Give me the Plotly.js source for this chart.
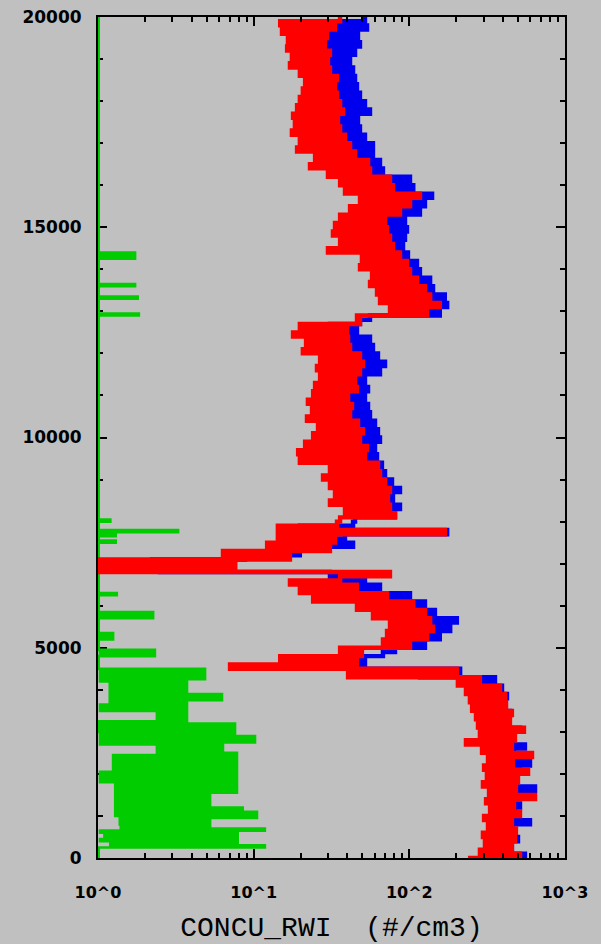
<!DOCTYPE html>
<html>
<head>
<meta charset="utf-8">
<script src="https://cdn.plot.ly/plotly-3.0.1.min.js"></script>
<style>html,body{margin:0;padding:0;background:#c0c0c0;}#chart{width:601px;height:944px;}</style>
</head>
<body>
<div id="chart"></div>
<script>
// Altitude grid (m) shared by the two main profiles
const altitude = [0,100,200,300,400,500,600,700,800,900,1000,1100,1200,1300,1400,1500,1600,1700,1800,1900,
2000,2100,2200,2300,2400,2500,2600,2700,2800,2900,3000,3100,3200,3300,3400,3500,3600,3700,3800,3900,
4000,4100,4200,4300,4400,4500,4600,4700,4800,4900,5000,5100,5200,5300,5400,5500,5600,5700,5800,5900,
6000,6100,6200,6300,6400,6500,6600,6700,6800,6900,7000,7100,7200,7300,7400,7500,7600,7700,7800,7900,
8000,8100,8200,8300,8400,8500,8600,8700,8800,8900,9000,9100,9200,9300,9400,9500,9600,9700,9800,9900,
10000,10100,10200,10300,10400,10500,10600,10700,10800,10900,11000,11100,11200,11300,11400,11500,11600,11700,11800,11900,
12000,12100,12200,12300,12400,12500,12600,12700,12800,12900,13000,13100,13200,13300,13400,13500,13600,13700,13800,13900,
14000,14100,14200,14300,14400,14500,14600,14700,14800,14900,15000,15100,15200,15300,15400,15500,15600,15700,15800,15900,
16000,16100,16200,16300,16400,16500,16600,16700,16800,16900,17000,17100,17200,17300,17400,17500,17600,17700,17800,17900,
18000,18100,18200,18300,18400,18500,18600,18700,18800,18900,19000,19100,19200,19300,19400,19500,19600,19700,19800,19900,20000];

// Red profile (#/cm3)
const redConc = [238,514,284,456,306,477,297,484,320,456,302,514,330,470,311,642,325,484,297,499,
315,579,302,463,320,614,293,456,231,477,284,545,276,443,268,456,253,418,245,412,
231,382,205,284,40.4,202,7.05,46.1,14.8,49.6,35.9,101,67.7,130,71.9,142,75.1,136,58.4,126,
46.1,106,24.1,71.9,19.8,46.1,17.1,35.9,75.1,1.03,7.59,1.03,17.1,6.35,30.9,12.2,33.3,14.3,169,14.3,
34.3,35.9,80.9,38.6,75.1,30.9,72.9,33.3,75.1,30.9,69.8,27.9,64.8,30.9,62.9,19.8,51.9,19.3,53.5,21.4,
48.2,24.1,50.4,25.9,46.8,22.0,41.6,23.7,42.8,22.3,40.4,24.1,46.1,24.8,44.8,26.7,48.2,25.5,50.4,26.7,
48.2,20.7,41.6,21.7,40.4,17.9,39.8,19.8,48.2,46.1,130,75.1,157,64.8,136,62.0,126,55.9,112,57.6,
101,48.2,96.6,49.6,87.1,30.0,78.5,35.9,75.1,32.3,71.9,33.3,69.8,35.9,87.1,41.6,101,48.2,117,38.6,
78.5,35.9,75.1,30.0,55.9,23.0,54.3,24.8,44.8,19.0,41.6,19.8,38.6,17.6,35.9,18.4,34.8,17.9,37.5,19.0,
35.9,19.8,34.3,20.7,33.3,21.4,34.3,19.8,30.9,17.1,30.0,17.6,30.9,16.4,28.7,16.6,29.6,15.2,33.3,14.8,35.9];

// Blue profile (#/cm3)
const blueConc = [330,553,355,456,340,499,355,463,366,596,345,477,366,514,355,456,371,642,350,477,
366,514,340,596,360,470,330,553,320,456,330,514,315,430,306,443,293,412,284,424,
276,394,245,355,117,212,38.6,51.9,30.9,67.7,80.9,126,93.8,157,109,183,117,202,101,146,
80.9,126,60.2,101,41.6,64.8,30.9,51.9,30.9,2.50,7.59,2.22,8.80,19.8,17.1,43.5,19.8,38.6,175,19.8,
43.5,44.8,80.9,44.8,87.1,38.6,78.5,41.6,87.1,38.6,77.4,35.9,69.8,38.6,66.7,33.3,62.0,30.9,60.2,33.3,
64.8,33.3,62.9,35.9,60.2,30.9,55.9,32.3,54.3,30.9,51.9,33.3,54.3,32.3,51.9,34.8,64.8,35.9,69.8,36.9,
62.9,30.9,58.4,30.0,55.9,32.3,46.1,30.9,48.2,55.9,157,93.8,175,87.1,169,80.9,142,75.1,136,69.8,
117,64.8,112,60.2,98.0,51.9,91.1,55.9,93.8,51.9,96.6,55.9,93.8,60.2,117,64.8,126,69.8,140,57.6,
106,51.9,101,44.8,67.7,38.6,64.8,35.9,58.4,33.3,58.4,30.9,51.9,28.7,48.2,29.6,46.8,28.7,55.9,30.9,
51.9,30.0,48.2,28.7,46.1,27.5,44.8,26.7,43.5,25.9,41.6,26.7,44.8,26.7,48.2,27.5,46.8,28.7,53.5,30.9,51.9];

// Green profile: its own altitude list (m) and concentration (#/cm3)
const greenAlt = [0,250,300,350,400,450,500,550,600,650,700,750,800,850,900,950,1000,1050,1100,1150,
1200,1250,1300,1350,1400,1450,1500,1550,1600,1650,1700,1750,1800,1850,1900,1950,2000,2050,2100,2150,
2200,2250,2300,2350,2400,2450,2500,2550,2600,2650,2700,2750,2800,2850,2900,2950,3000,3050,3100,3150,
3200,3250,3300,3350,3400,3450,3500,3550,3600,3650,3700,3750,3800,3850,3900,3950,4000,4050,4100,4150,
4200,4250,4300,4350,4400,4450,4500,4550,4800,4850,4900,4950,5000,5200,5250,5300,5350,5400,5700,5750,
5800,5850,5900,6250,6300,6350,7500,7550,7650,7700,7750,7800,7850,8000,8050,8100,12900,12950,13000,13300,
13350,13400,13600,13650,13700,14250,14300,14350,14400,14450,20000];
const greenConc = [1.01,1.01,11.8,1.2,7.9,1.03,7.9,1.1,7.9,1.03,11.8,1.4,5.25,1.38,5.25,1.38,10.5,1.29,10.5,1.29,
8.5,1.29,5.25,1.29,5.25,1.29,5.25,1.29,7.81,1.29,7.81,1.29,7.81,1.03,7.81,1.03,7.81,1.03,7.81,1.25,
7.81,1.25,7.81,1.25,7.81,1.25,7.81,2.39,6.35,2.39,6.35,1.03,10.2,1.03,10.2,1.03,7.59,1.01,7.59,1.01,
7.59,1.01,3.73,2.39,3.73,2.39,3.73,1.03,3.73,1.03,3.73,1.19,6.26,1.19,6.26,1.19,3.73,1.19,3.73,1.19,
3.73,1.03,4.87,1.03,4.87,1.03,4.87,1.01,1.01,2.32,1.03,2.32,1.01,1.01,1.25,1.01,1.25,1.01,1.01,2.26,
1.01,2.26,1.01,1.01,1.32,1.01,1.01,1.3,1.01,1.3,1.01,3.27,1.01,1.01,1.2,1.01,1.01,1.83,1.01,1.01,
1.80,1.01,1.01,1.73,1.01,1.01,1.73,1.01,1.73,1.01,1.01];

const xTickVals = [1,10,100,1000];
const xTickText = ['10^0','10^1','10^2','10^3'];
const xMinorVals = [2,3,4,5,6,7,8,9,20,30,40,50,60,70,80,90,200,300,400,500,600,700,800,900];
const yTickVals = [0,5000,10000,15000,20000];
const yTickText = ['0','5000','10000','15000','20000'];

const traces = [
  {x: greenConc, y: greenAlt, type:'scatter', mode:'lines', line:{color:'#00cc00', width:2.6, shape:'hv'}, hoverinfo:'skip'},
  {x: blueConc, y: altitude, type:'scatter', mode:'lines', line:{color:'#0000ee', width:4.4, shape:'hv'}, hoverinfo:'skip'},
  {x: redConc, y: altitude, type:'scatter', mode:'lines', line:{color:'#ff0000', width:4.4, shape:'hv'}, hoverinfo:'skip'}
];

const tickFont = {family:'DejaVu Sans', size:17, color:'#000', weight:'bold'};

const layout = {
  width:601, height:944,
  margin:{l:98, r:36, t:17, b:86, pad:0},
  paper_bgcolor:'#c0c0c0', plot_bgcolor:'#c0c0c0',
  showlegend:false,
  xaxis:{
    type:'log', range:[0,3], showgrid:false, zeroline:false,
    showline:true, linecolor:'#000', linewidth:2, mirror:'ticks',
    ticks:'inside', ticklen:9, tickwidth:2, tickcolor:'#000',
    tickmode:'array', tickvals:xTickVals, ticktext:xTickText,
    tickfont:{family:'DejaVu Sans', size:16, color:'#000', weight:'bold'}, ticklabelstandoff:19,
    minor:{ticks:'inside', ticklen:5, tickwidth:2, tickcolor:'#000', tickmode:'array', tickvals:xMinorVals, showgrid:false},
    title:{text:'CONCU_RWI  (#/cm3)', font:{family:'Liberation Mono', size:28, color:'#000'}, standoff:18}
  },
  yaxis:{
    range:[0,20000], showgrid:false, zeroline:false, layer:'below traces',
    showline:true, linecolor:'#000', linewidth:2, mirror:'ticks',
    ticks:'inside', ticklen:9, tickwidth:2, tickcolor:'#000',
    tickmode:'array', tickvals:yTickVals, ticktext:yTickText,
    tickfont:tickFont, ticklabelstandoff:11,
    minor:{ticks:'inside', ticklen:5, tickwidth:2, tickcolor:'#000', dtick:1000, showgrid:false}
  }
};

Plotly.newPlot('chart', traces, layout, {staticPlot:true, displayModeBar:false});
</script>
</body>
</html>
